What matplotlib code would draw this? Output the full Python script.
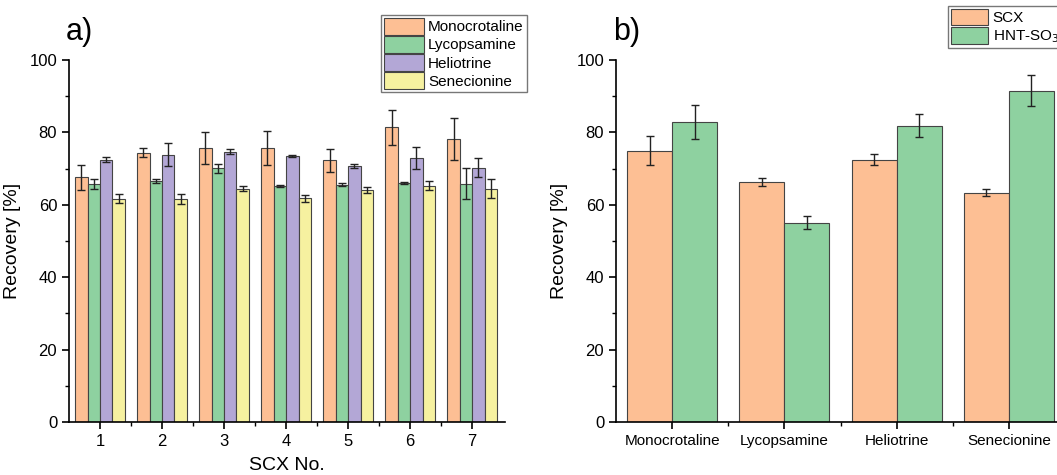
import numpy as np
import matplotlib.pyplot as plt
from matplotlib.ticker import MultipleLocator, FixedLocator

plt.rcParams['font.family'] = ['Liberation Sans', 'DejaVu Sans']

# panel a) data
scx_no = [1, 2, 3, 4, 5, 6, 7]
mono = [67.6, 74.4, 75.7, 75.7, 72.3, 81.4, 78.2]
mono_err = [3.5, 1.2, 4.3, 4.6, 3.2, 4.8, 5.7]
lyco = [65.8, 66.5, 70.1, 65.2, 65.6, 66.0, 65.8]
lyco_err = [1.4, 0.6, 1.2, 0.4, 0.3, 0.2, 4.3]
helio = [72.5, 73.8, 74.7, 73.4, 70.8, 73.0, 70.3]
helio_err = [0.6, 3.2, 0.7, 0.3, 0.5, 3.1, 2.5]
sene = [61.7, 61.7, 64.5, 61.8, 64.1, 65.3, 64.5]
sene_err = [1.3, 1.4, 0.6, 1.0, 0.7, 1.2, 2.5]

# panel b) data
alkaloids = ['Monocrotaline', 'Lycopsamine', 'Heliotrine', 'Senecionine']
scx = [75.0, 66.4, 72.5, 63.4]
scx_err = [4.0, 1.1, 1.6, 1.0]
hnt = [83.0, 55.1, 81.9, 91.5]
hnt_err = [4.7, 1.8, 3.3, 4.3]

c_orange = '#FDBF94'
c_green = '#8ED1A0'
c_purple = '#B3A7D6'
c_yellow = '#F6F1A0'
edge = '#444444'

fig = plt.figure(figsize=(10.57, 4.75), dpi=100)
ax1 = fig.add_axes([0.0653, 0.1116, 0.4125, 0.762])
ax2 = fig.add_axes([0.5828, 0.1116, 0.4248, 0.762])

ekw = dict(ecolor='#222222', elinewidth=1, capsize=3, capthick=1)

x = np.arange(len(scx_no)) + 1
w = 0.2
series = [(mono, mono_err, c_orange, 'Monocrotaline'),
          (lyco, lyco_err, c_green, 'Lycopsamine'),
          (helio, helio_err, c_purple, 'Heliotrine'),
          (sene, sene_err, c_yellow, 'Senecionine')]
for i, (v, e, c, lab) in enumerate(series):
    ax1.bar(x + (i - 1.5) * w, v, w, yerr=e, color=c, edgecolor=edge,
            linewidth=0.8, label=lab, error_kw=ekw)

ax1.set_xlim(0.5, 7.53)
ax1.set_xticks(x)
ax1.set_xticklabels([str(n) for n in scx_no])
ax1.xaxis.set_minor_locator(FixedLocator(x[:-1] + 0.5))
ax1.set_xlabel('SCX No.', fontsize=14, labelpad=6)

xb = np.arange(len(alkaloids))
wb = 0.4
ax2.bar(xb - wb / 2, scx, wb, yerr=scx_err, color=c_orange, edgecolor=edge,
        linewidth=0.8, label='SCX', error_kw=ekw)
ax2.bar(xb + wb / 2, hnt, wb, yerr=hnt_err, color=c_green, edgecolor=edge,
        linewidth=0.8, label='HNT-SO$_3$', error_kw=ekw)
ax2.set_xlim(-0.5, 3.5)
ax2.set_xticks(xb)
ax2.set_xticklabels(alkaloids)
ax2.xaxis.set_minor_locator(FixedLocator(xb[:-1] + 0.5))

for ax in (ax1, ax2):
    ax.set_ylim(0, 100)
    ax.yaxis.set_major_locator(MultipleLocator(20))
    ax.yaxis.set_minor_locator(MultipleLocator(10))
    ax.set_ylabel('Recovery [%]', fontsize=14, labelpad=6)
    ax.spines['top'].set_visible(False)
    ax.spines['right'].set_visible(False)
    ax.spines['left'].set_linewidth(1.2)
    ax.spines['bottom'].set_linewidth(1.2)
    ax.tick_params(axis='both', which='major', labelsize=12, length=5, width=1.2)
    ax.tick_params(axis='both', which='minor', length=3, width=1)
ax2.tick_params(axis='x', which='major', labelsize=11)

ax1.legend(loc='upper right', bbox_to_anchor=(1.05, 1.125), fontsize=11,
           frameon=True, fancybox=False, edgecolor='#555555',
           handlelength=2.6, handleheight=1.3, handletextpad=0.3,
           labelspacing=0.1, borderpad=0.2, borderaxespad=0)
ax2.legend(loc='upper left', bbox_to_anchor=(0.74, 1.15), fontsize=11,
           frameon=True, fancybox=False, edgecolor='#555555',
           handlelength=2.4, handleheight=1.3, handletextpad=0.3,
           labelspacing=0.1, borderpad=0.2, borderaxespad=0)

fig.text(0.062, 0.932, 'a)', fontsize=22, va='center')
fig.text(0.58, 0.932, 'b)', fontsize=22, va='center')

fig.savefig('out.png', dpi=100)
